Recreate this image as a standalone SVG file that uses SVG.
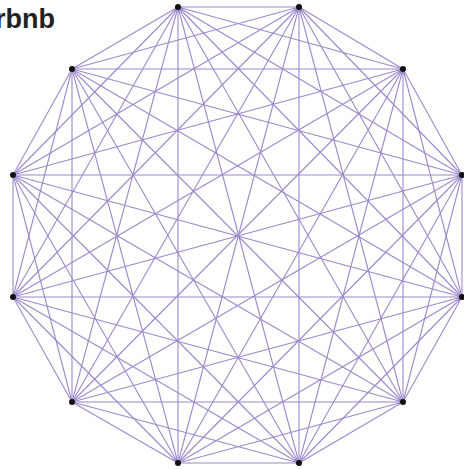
<svg xmlns="http://www.w3.org/2000/svg" width="464" height="469" viewBox="0 0 464 469">
<style>
.e{stroke:#9c89cc;stroke-width:1.1;fill:none}
.v{fill:#111}
.t{font-family:"Liberation Sans",Arial,sans-serif;font-weight:bold;font-size:27px;fill:#222}
</style>
<rect width="464" height="469" fill="#fff"/>
<text class="t" x="-5" y="28">rbnb</text>
<g id="connectors" class="e">
<path d="M178,7L299,7M178,7L403,69M178,7L462,175M178,7L462,297M178,7L403,402M178,7L299,463M178,7L178,463M178,7L72,402M178,7L13,297M178,7L13,175M178,7L72,69"/>
<path d="M299,7L403,69M299,7L462,175M299,7L462,297M299,7L403,402M299,7L299,463M299,7L178,463M299,7L72,402M299,7L13,297M299,7L13,175M299,7L72,69"/>
<path d="M403,69L462,175M403,69L462,297M403,69L403,402M403,69L299,463M403,69L178,463M403,69L72,402M403,69L13,297M403,69L13,175M403,69L72,69"/>
<path d="M462,175L462,297M462,175L403,402M462,175L299,463M462,175L178,463M462,175L72,402M462,175L13,297M462,175L13,175M462,175L72,69"/>
<path d="M462,297L403,402M462,297L299,463M462,297L178,463M462,297L72,402M462,297L13,297M462,297L13,175M462,297L72,69"/>
<path d="M403,402L299,463M403,402L178,463M403,402L72,402M403,402L13,297M403,402L13,175M403,402L72,69"/>
<path d="M299,463L178,463M299,463L72,402M299,463L13,297M299,463L13,175M299,463L72,69"/>
<path d="M178,463L72,402M178,463L13,297M178,463L13,175M178,463L72,69"/>
<path d="M72,402L13,297M72,402L13,175M72,402L72,69"/>
<path d="M13,297L13,175M13,297L72,69"/>
<path d="M13,175L72,69"/>
</g>
<g id="n0"><circle class="v" cx="178" cy="7" r="3"/></g>
<g id="n1"><circle class="v" cx="299" cy="7" r="3"/></g>
<g id="n2"><circle class="v" cx="403" cy="69" r="3"/></g>
<g id="n3"><circle class="v" cx="462" cy="175" r="3"/></g>
<g id="n4"><circle class="v" cx="462" cy="297" r="3"/></g>
<g id="n5"><circle class="v" cx="403" cy="402" r="3"/></g>
<g id="n6"><circle class="v" cx="299" cy="463" r="3"/></g>
<g id="n7"><circle class="v" cx="178" cy="463" r="3"/></g>
<g id="n8"><circle class="v" cx="72" cy="402" r="3"/></g>
<g id="n9"><circle class="v" cx="13" cy="297" r="3"/></g>
<g id="n10"><circle class="v" cx="13" cy="175" r="3"/></g>
<g id="n11"><circle class="v" cx="72" cy="69" r="3"/></g>
</svg>
